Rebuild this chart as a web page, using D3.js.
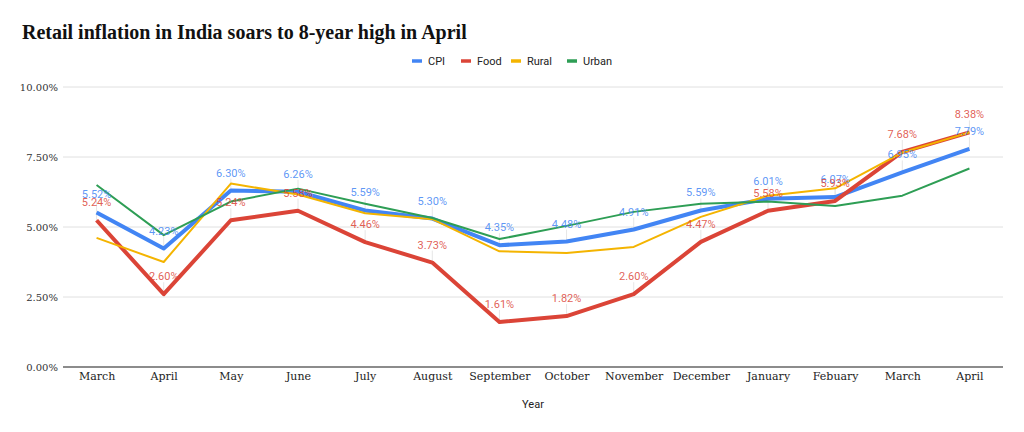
<!DOCTYPE html>
<html><head><meta charset="utf-8">
<script src="https://cdn.jsdelivr.net/npm/d3@7"></script>
<style>body{margin:0;background:#fff}svg{display:block}</style>
</head><body>
<svg id="chart" width="1024" height="432"></svg>
<script>
const months = ["March","April","May","June","July","August","September","October","November","December","January","Febuary","March","April"];
const cpi   = [5.52,4.23,6.30,6.26,5.59,5.30,4.35,4.48,4.91,5.59,6.01,6.07,6.95,7.79];
const food  = [5.24,2.60,5.24,5.58,4.46,3.73,1.61,1.82,2.60,4.47,5.58,5.93,7.68,8.38];
const rural = [4.61,3.75,6.55,6.16,5.49,5.28,4.13,4.07,4.29,5.36,6.12,6.38,7.66,8.38];
const urban = [6.50,4.71,5.91,6.37,5.83,5.32,4.57,5.04,5.54,5.83,5.91,5.75,6.12,7.09];
const yTicks = [0,2.5,5,7.5,10];
const seriesNames = ["CPI","Food","Rural","Urban"];
const seriesColors = ["#4285f4","#db4437","#f4b400","#2e9e55"];
const seriesWidths = [4,4,2,2];
const seriesData = [cpi,food,rural,urban];

const svg = d3.select("#chart");
const x = d3.scalePoint().domain(d3.range(months.length)).range([63,1003]).padding(0.5);
const y = d3.scaleLinear().domain([0,10]).range([367,87]);

svg.append("text").attr("x",22).attr("y",39)
  .attr("font-family","Liberation Serif").attr("font-weight","bold").attr("font-size",20)
  .attr("fill","#111").text("Retail inflation in India soars to 8-year high in April");

// gridlines
svg.append("g").selectAll("line").data(yTicks.filter(d=>d>0)).join("line")
  .attr("x1",63).attr("x2",1003).attr("y1",d=>y(d)).attr("y2",d=>y(d))
  .attr("stroke","#e0e0e0").attr("stroke-width",1);

// y axis labels
const yAxis = d3.axisLeft(y).tickValues(yTicks).tickSize(0).tickPadding(0)
  .tickFormat(d=>d3.format(".2f")(d)+"%");
const gy = svg.append("g").attr("transform","translate(58,0)").call(yAxis);
gy.select(".domain").remove();
gy.selectAll("text").attr("font-family","DejaVu Serif").attr("font-size",10).attr("fill","#333");

// x axis
const xAxis = d3.axisBottom(x).tickSize(0).tickPadding(5).tickFormat(i=>months[i]);
const gx = svg.append("g").attr("transform","translate(0,367)").call(xAxis);
gx.select(".domain").attr("stroke","#666").attr("stroke-width",1.5).attr("d","M63,0H1003");
gx.selectAll("text").attr("font-family","DejaVu Serif").attr("font-size",11).attr("fill","#222");

svg.append("text").attr("x",533).attr("y",408).attr("text-anchor","middle")
  .attr("font-family","Roboto").attr("font-size",11).attr("fill","#222").text("Year");

// annotation stems
[0,1].forEach(s=>{
  svg.append("g").selectAll("line").data(seriesData[s]).join("line")
    .attr("x1",(d,i)=>x(i)).attr("x2",(d,i)=>x(i))
    .attr("y1",d=>y(d)-12).attr("y2",d=>y(d))
    .attr("stroke","#e6e6e6").attr("stroke-width",1);
});

// lines
const line = d3.line().x((d,i)=>x(i)).y(d=>y(d));
seriesData.forEach((data,s)=>{
  svg.append("path").datum(data).attr("d",line).attr("fill","none")
    .attr("stroke",seriesColors[s]).attr("stroke-width",seriesWidths[s])
    .attr("stroke-linejoin","round");
});

// labels
[0,1].forEach(s=>{
  svg.append("g").selectAll("text").data(seriesData[s]).join("text")
    .attr("x",(d,i)=>x(i)).attr("y",d=>y(d)-14)
    .attr("text-anchor","middle").attr("font-family","Roboto").attr("font-size",11)
    .attr("fill",seriesColors[s]).attr("fill-opacity",0.85)
    .text(d=>d3.format(".2f")(d)+"%");
});

// legend
const legendX = [412,461,511,567];
const lg = svg.append("g");
seriesNames.forEach((n,s)=>{
  lg.append("line").attr("x1",legendX[s]).attr("x2",legendX[s]+10).attr("y1",61).attr("y2",61)
    .attr("stroke",seriesColors[s]).attr("stroke-width",3.5);
  lg.append("text").attr("x",legendX[s]+16).attr("y",65).attr("font-family","Roboto")
    .attr("font-size",11).attr("fill","#222").text(n);
});
</script>
</body></html>
